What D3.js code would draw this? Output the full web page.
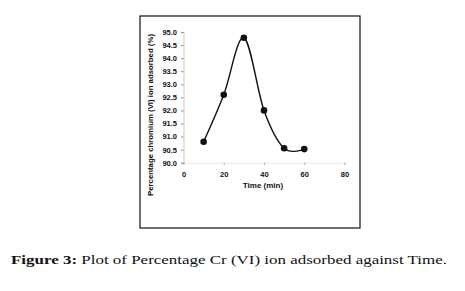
<!DOCTYPE html>
<html><head><meta charset="utf-8">
<script src="https://cdn.jsdelivr.net/npm/d3@7"></script>
<style>body{margin:0;background:#fff}svg{display:block}</style>
</head><body>
<svg id="c" width="465" height="291"></svg>
<script>
const times = [10, 20, 30, 40, 50, 60];
const percentAdsorbed = [90.8, 92.6, 94.78, 92.0, 90.55, 90.52];
const xTicks = [0, 20, 40, 60, 80];
const yTicks = [90.0, 90.5, 91.0, 91.5, 92.0, 92.5, 93.0, 93.5, 94.0, 94.5, 95.0];
const xTitle = "Time (min)";
const yTitle = "Percentage chromium (VI) ion adsorbed (%)";
const captionBold = "Figure 3:";
const captionText = " Plot of Percentage Cr (VI) ion adsorbed against Time.";

const svg = d3.select("#c");
const font = "'Liberation Sans Narrow','Liberation Sans',Arial,sans-serif";

// frame
svg.append("rect").attr("x", 140).attr("y", 16).attr("width", 220).attr("height", 212)
  .attr("fill", "none").attr("stroke", "#222").attr("stroke-width", 1.3);

const x = d3.scaleLinear().domain([0, 80]).range([183.5, 344.5]);
const y = d3.scaleLinear().domain([90, 95]).range([162.7, 32]);

// y axis
const gy = svg.append("g").attr("transform", `translate(${x(0)},0)`)
  .call(d3.axisLeft(y).tickValues(yTicks).tickFormat(d3.format(".1f")).tickSize(2.5).tickPadding(4));
gy.select(".domain").attr("stroke", "#bbb").attr("stroke-width", 0.8);
gy.selectAll(".tick line").attr("stroke", "#777").attr("stroke-width", 0.8);
gy.selectAll("text").attr("font-family", font).attr("font-weight", "bold")
  .attr("font-size", 7.5).attr("fill", "#111");

// x axis
const gx = svg.append("g").attr("transform", `translate(0,${y(90)})`)
  .call(d3.axisBottom(x).tickValues(xTicks).tickFormat(d3.format("d")).tickSize(2).tickPadding(7));
gx.select(".domain").attr("stroke", "#ddd").attr("stroke-width", 0.6);
gx.selectAll(".tick line").attr("stroke", "#888").attr("stroke-width", 0.8);
gx.selectAll("text").attr("font-family", font).attr("font-weight", "bold")
  .attr("font-size", 7.5).attr("fill", "#111");

// titles
svg.append("text").attr("x", 263).attr("y", 188).attr("text-anchor", "middle")
  .attr("font-family", font).attr("font-weight", "bold").attr("font-size", 8).attr("fill", "#111")
  .text(xTitle);
svg.append("text").attr("transform", "translate(153,115) rotate(-90)").attr("text-anchor", "middle")
  .attr("font-family", font).attr("font-weight", "bold").attr("font-size", 7.8).attr("fill", "#111")
  .attr("textLength", 162).attr("lengthAdjust", "spacingAndGlyphs")
  .text(yTitle);

// line + points
const data = times.map((t, i) => ({t, v: percentAdsorbed[i]}));
const line = d3.line().x(d => x(d.t)).y(d => y(d.v)).curve(d3.curveCatmullRom.alpha(0));
svg.append("path").datum(data).attr("d", line).attr("fill", "none")
  .attr("stroke", "#111").attr("stroke-width", 1.4);
svg.selectAll("circle.pt").data(data).join("circle").attr("class", "pt")
  .attr("cx", d => x(d.t)).attr("cy", d => y(d.v)).attr("r", 3.3).attr("fill", "#111");

// caption
const cap = svg.append("text").attr("x", 11).attr("y", 264)
  .attr("font-family", "'Liberation Serif','Times New Roman',serif").attr("font-size", 13.5).attr("fill", "#111")
  .attr("textLength", 436).attr("lengthAdjust", "spacingAndGlyphs");
cap.append("tspan").attr("font-weight", "bold").text(captionBold);
cap.append("tspan").text(captionText);
</script>
</body></html>
